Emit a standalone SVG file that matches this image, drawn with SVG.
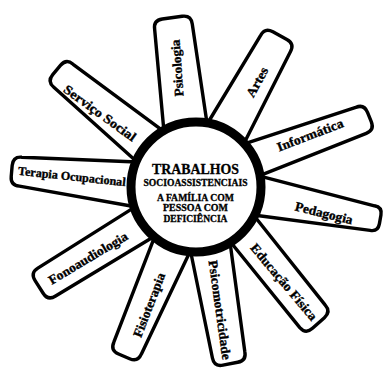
<svg xmlns="http://www.w3.org/2000/svg" width="385" height="374" viewBox="0 0 385 374">
<style>
.petal{fill:#fff;stroke:#000;stroke-width:3.4;stroke-linejoin:round}
.lbl{font-family:"Liberation Serif","Times New Roman",serif;font-weight:bold;font-size:13px;fill:#000;stroke:#000;stroke-width:0.35;text-anchor:middle}
.ctr{font-family:"Liberation Serif","Times New Roman",serif;font-weight:bold;fill:#000;stroke:#000;stroke-width:0.3;text-anchor:middle}
</style>
<rect width="385" height="374" fill="#fff"/>
<g id="psicologia">
<path class="petal" transform="translate(196 187) rotate(-98)" d="M59.3,-24 L162,-19 Q171,-19 171,-10 L171,10 Q171,19 162,19 L60.9,19.8 Z"/>
<text class="lbl" transform="translate(177 68) rotate(-94)" y="4.5" textLength="57" lengthAdjust="spacingAndGlyphs">Psicologia</text>
</g>
<g id="artes">
<path class="petal" transform="translate(196 187) rotate(-61)" d="M60.5,-20.8 L164,-17 Q173,-17 173,-8 L173,8 Q173,17 164,17 L60.5,20.8 Z"/>
<text class="lbl" transform="translate(257 82) rotate(-61)" y="4.5" textLength="32" lengthAdjust="spacingAndGlyphs">Artes</text>
</g>
<g id="informatica">
<path class="petal" transform="translate(196 187) rotate(-22)" d="M60.1,-21.9 L178,-14 Q187,-14 187,-5 L187,5 Q187,14 178,14 L62.6,13.3 Z"/>
<text class="lbl" transform="translate(310 135) rotate(-21)" y="4.5" textLength="70" lengthAdjust="spacingAndGlyphs">Informática</text>
</g>
<g id="pedagogia">
<path class="petal" transform="translate(196 187) rotate(10)" d="M60.1,-21.9 L179,-12.5 Q187,-12.5 187,-4.5 L187,4.5 Q187,12.5 179,12.5 L61.5,17.6 Z"/>
<text class="lbl" transform="translate(324 213) rotate(14)" y="4.5" textLength="59" lengthAdjust="spacingAndGlyphs">Pedagogia</text>
</g>
<g id="educacao-fisica">
<path class="petal" transform="translate(196 187) rotate(48)" d="M59.3,-24 L174,-17 Q183,-17 183,-8 L183,8 Q183,17 174,17 L63,11.1 Z"/>
<text class="lbl" transform="translate(284 282) rotate(50)" y="4.5" textLength="96" lengthAdjust="spacingAndGlyphs">Educação Física</text>
</g>
<g id="psicomotricidade">
<path class="petal" transform="translate(196 187) rotate(79)" d="M59.7,-22.9 L171,-16.5 Q180,-16.5 180,-7.5 L180,7.5 Q180,16.5 171,16.5 L61.5,17.6 Z"/>
<text class="lbl" transform="translate(220 310) rotate(82)" y="4.5" textLength="100" lengthAdjust="spacingAndGlyphs">Psicomotricidade</text>
</g>
<g id="fisioterapia">
<path class="petal" transform="translate(196 187) rotate(113)" d="M60.9,-19.8 L175,-15 Q184,-15 184,-6 L184,6 Q184,15 175,15 L61.2,18.7 Z"/>
<text class="lbl" transform="translate(149 305) rotate(-69)" y="4.5" textLength="68" lengthAdjust="spacingAndGlyphs">Fisioterapia</text>
</g>
<g id="fonoaudiologia">
<path class="petal" transform="translate(196 187) rotate(147.5)" d="M61,-19.2 L177,-16.5 Q186,-16.5 186,-7.5 L186,7.5 Q186,16.5 177,16.5 L62,16 Z"/>
<text class="lbl" transform="translate(88 258) rotate(-31)" y="4.5" textLength="90" lengthAdjust="spacingAndGlyphs">Fonoaudiologia</text>
</g>
<g id="terapia-ocupacional">
<path class="petal" transform="translate(196 187) rotate(185)" d="M58.9,-25 L176,-14.5 Q185,-14.5 185,-5.5 L185,5.5 Q185,14.5 176,14.5 L60.9,19.8 Z"/>
<text class="lbl" transform="translate(72 176) rotate(6)" y="4.5" style="font-size:12px" textLength="108" lengthAdjust="spacingAndGlyphs">Terapia Ocupacional</text>
</g>
<g id="servico-social">
<path class="petal" transform="translate(196 187) rotate(-140)" d="M61.2,-18.7 L173,-15 Q182,-15 182,-6 L182,6 Q182,15 173,15 L60.1,21.9 Z"/>
<text class="lbl" transform="translate(100 113) rotate(36)" y="4.5" textLength="86" lengthAdjust="spacingAndGlyphs">Serviço Social</text>
</g>
<g id="centro">
<circle cx="196" cy="187" r="65" fill="#fff" stroke="#000" stroke-width="9"/>
<text class="ctr" x="195.5" y="174" font-size="14" textLength="87" lengthAdjust="spacingAndGlyphs">TRABALHOS</text>
<text class="ctr" x="195.5" y="186" font-size="9.5" textLength="104" lengthAdjust="spacingAndGlyphs">SOCIOASSISTENCIAIS</text>
<text class="ctr" x="195.5" y="200.5" font-size="9.5" textLength="77" lengthAdjust="spacingAndGlyphs">A FAMÍLIA COM</text>
<text class="ctr" x="195.5" y="211" font-size="9.5" textLength="65" lengthAdjust="spacingAndGlyphs">PESSOA COM</text>
<text class="ctr" x="195.5" y="222" font-size="9.5" textLength="64" lengthAdjust="spacingAndGlyphs">DEFICIÊNCIA</text>
</g>
</svg>
